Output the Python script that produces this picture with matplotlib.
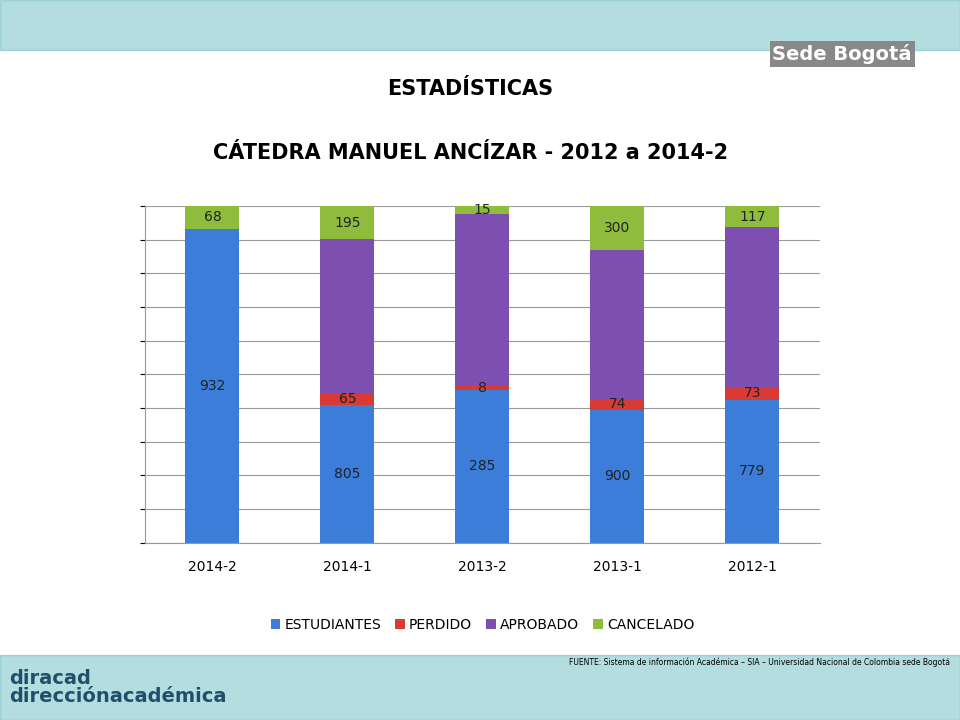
import numpy as np
import matplotlib.pyplot as plt

periods = ['2014-2', '2014-1', '2013-2', '2013-1', '2012-1']
estudiantes = [932, 805, 285, 900, 779]
perdido = [0, 65, 8, 74, 73]
aprobado = [0, 900, 320, 1006, 868]
cancelado = [68, 195, 15, 300, 117]

series = [('ESTUDIANTES', estudiantes, '#3b7dd8', True),
          ('PERDIDO', perdido, '#d93a34', True),
          ('APROBADO', aprobado, '#7d4fb0', False),
          ('CANCELADO', cancelado, '#8fbc3c', True)]

totals = np.sum([estudiantes, perdido, aprobado, cancelado], axis=0)

fig = plt.figure(figsize=(9.6, 7.2), dpi=100)
fig.patch.set_facecolor('white')

# decorative bands
fig.patches.append(plt.Rectangle((0, 0.93), 1, 0.07, transform=fig.transFigure,
                                 color='#2aa0a8', alpha=0.35))
fig.patches.append(plt.Rectangle((0, 0), 1, 0.09, transform=fig.transFigure,
                                 color='#2aa0a8', alpha=0.35))
fig.text(0.95, 0.925, 'Sede Bogotá', fontsize=14, fontweight='bold',
         color='white', ha='right', va='center',
         bbox=dict(facecolor='#888888', edgecolor='none', pad=2))
fig.text(0.01, 0.045, 'diracad\ndirecciónacadémica', fontsize=14, fontweight='bold',
         color='#1f4f6a', va='center', linespacing=0.9)

fig.text(0.49, 0.877, 'ESTADÍSTICAS', fontsize=15, fontweight='bold',
         ha='center', va='center')
fig.text(0.49, 0.787, 'CÁTEDRA MANUEL ANCÍZAR - 2012 a 2014-2', fontsize=15,
         fontweight='bold', ha='center', va='center')
fig.text(0.99, 0.077, 'FUENTE: Sistema de información Académica – SIA – Universidad '
         'Nacional de Colombia sede Bogotá', fontsize=5.5, ha='right')

ax = fig.add_axes([0.151, 0.246, 0.703, 0.468])
x = np.arange(len(periods))
bottom = np.zeros(len(periods))
for name, vals, color, show in series:
    frac = np.array(vals) / totals
    ax.bar(x, frac, 0.4, bottom=bottom, color=color, label=name,
           edgecolor='none')
    if show:
        for i, v in enumerate(vals):
            if v > 0:
                ax.text(x[i], bottom[i] + frac[i] / 2, str(v), ha='center',
                        va='center', fontsize=10, color='#222222')
    bottom += frac

ax.set_ylim(0, 1)
ax.set_xlim(-0.5, 4.5)
ax.set_yticks(np.linspace(0, 1, 11))
ax.set_yticklabels([])
ax.grid(axis='y', color='#999999', linewidth=0.8)
ax.set_axisbelow(True)
ax.set_xticks(x)
ax.set_xticklabels(periods, fontsize=10)
ax.tick_params(axis='x', length=0, pad=12)
for s in ['top', 'right']:
    ax.spines[s].set_visible(False)
ax.spines['left'].set_color('#999999')
ax.spines['bottom'].set_color('#999999')

ax.legend(loc='upper center', bbox_to_anchor=(0.5, -0.185), ncol=4, frameon=False,
          fontsize=10, handlelength=0.7, handleheight=0.7, columnspacing=1.0,
          handletextpad=0.3)

fig.savefig('out.png', dpi=100)
